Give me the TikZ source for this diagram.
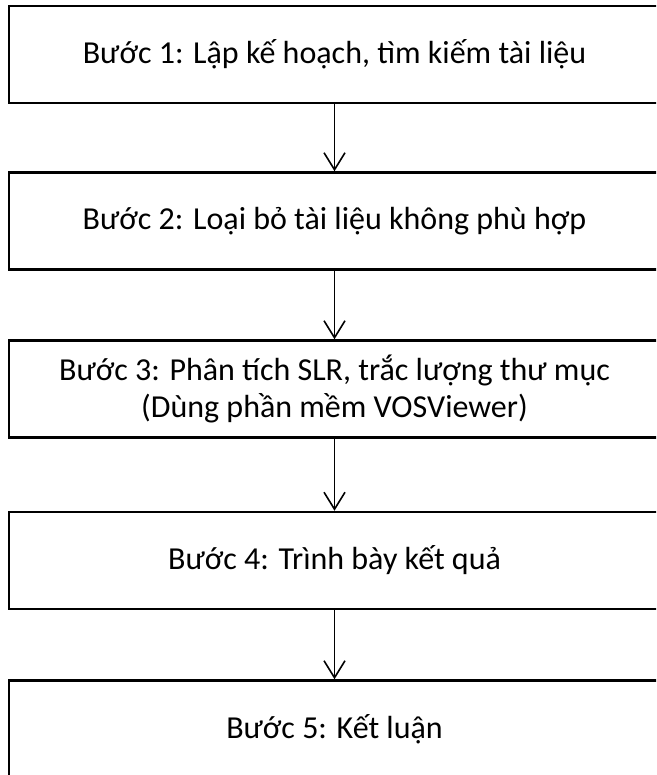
\documentclass[tikz,border=0pt]{standalone}
\usepackage{fontspec}
\setmainfont{Carlito}
\usetikzlibrary{arrows.meta, positioning}
\tikzset{
  stepbox/.style = {rectangle, draw=black, line width=2.5pt,
      minimum width=651pt, minimum height=97pt, align=center,
      inner sep=0pt, font=\fontsize{32}{37}\selectfont},
  flow/.style = {-{Straight Barb[length=17pt, width=21pt]}, line width=1.6pt},
}
\begin{document}
\begin{tikzpicture}[x=1pt, y=-1pt]
  \clip (0,0) rectangle (656,775);
  \node[stepbox] (s1) at (334.5,54.5) {Bước 1: Lập kế hoạch, tìm kiếm tài liệu};
  \node[stepbox] (s2) at (334.5,221) {Bước 2: Loại bỏ tài liệu không phù hợp};
  \node[stepbox] (s3) at (334.5,389) {Bước 3: Phân tích SLR, trắc lượng thư mục\\(Dùng phần mềm VOSViewer)};
  \node[stepbox] (s4) at (334.5,560.5) {Bước 4: Trình bày kết quả};
  \node[stepbox] (s5) at (334.5,729) {Bước 5: Kết luận};

  \draw[flow] (s1) -- (s2);
  \draw[flow] (s2) -- (s3);
  \draw[flow] (s3) -- (s4);
  \draw[flow] (s4) -- (s5);
\end{tikzpicture}
\end{document}
